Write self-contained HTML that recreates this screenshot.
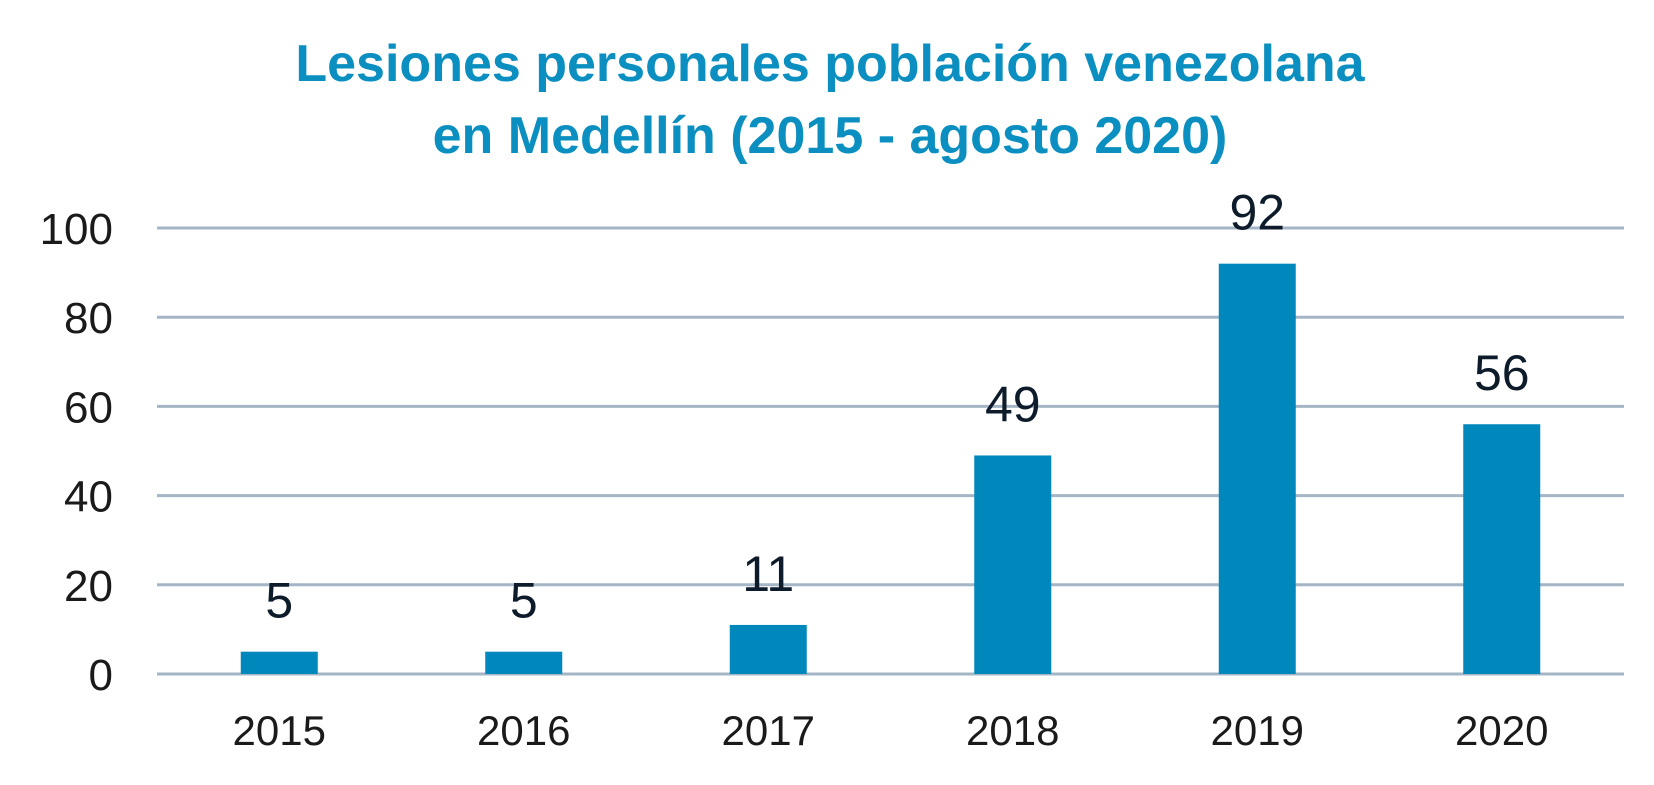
<!DOCTYPE html>
<html><head><meta charset="utf-8"><style>
html,body{margin:0;padding:0;background:#fff;}
svg{display:block;font-family:"Liberation Sans",sans-serif;}
</style></head><body>
<svg id="chart" width="1654" height="785" viewBox="0 0 1654 785">
<text x="830" y="81" text-anchor="middle" font-size="52" font-weight="bold" fill="#0a8fc0">Lesiones personales población venezolana</text>
<text x="830" y="153" text-anchor="middle" font-size="52" font-weight="bold" fill="#0a8fc0">en Medellín (2015 - agosto 2020)</text>
<g id="grid"></g>
<g id="yaxis"></g>
<g id="bars"></g>
<g id="xaxis"></g>
</svg>
<script>
const categories = ["2015","2016","2017","2018","2019","2020"];
const values = [5,5,11,49,92,56];
const yTicks = [0,20,40,60,80,100];
const NS="http://www.w3.org/2000/svg";
const L=157,R=1624,T=228,B=674,yMax=100;
const y=v=>B-(v/yMax)*(B-T);
const band=(R-L)/categories.length;
const xc=i=>L+band*(i+0.5);
const bw=77;
function mk(tag,attrs,parent,text){const e=document.createElementNS(NS,tag);for(const k in attrs)e.setAttribute(k,attrs[k]);if(text!==undefined)e.textContent=text;parent.appendChild(e);return e;}
const grid=document.getElementById('grid'),ya=document.getElementById('yaxis'),bars=document.getElementById('bars'),xa=document.getElementById('xaxis');
yTicks.forEach(t=>{
  const ln=mk('line',{x1:L,x2:R,y1:y(t),y2:y(t),stroke:'#a4b6c5','stroke-width':3},grid);
  
  
  const tx=mk('text',{x:113,y:y(t)+16,'text-anchor':'end','font-size':44,fill:'#1a1a1a'},ya,String(t));
  
  
});
categories.forEach((c,i)=>{
  const r=mk('rect',{x:xc(i)-bw/2,y:y(values[i]),width:bw,height:B-y(values[i]),fill:'#0087bb'},bars);
  
  
  const lb=mk('text',{x:xc(i),y:y(values[i])-34,'text-anchor':'middle','font-size':50,fill:'#0d1b2a'},bars,String(values[i]));
  
  
  const xt=mk('text',{x:xc(i),y:745,'text-anchor':'middle','font-size':42,fill:'#1a1a1a'},xa,c);
  
  
});
</script>
</body></html>
